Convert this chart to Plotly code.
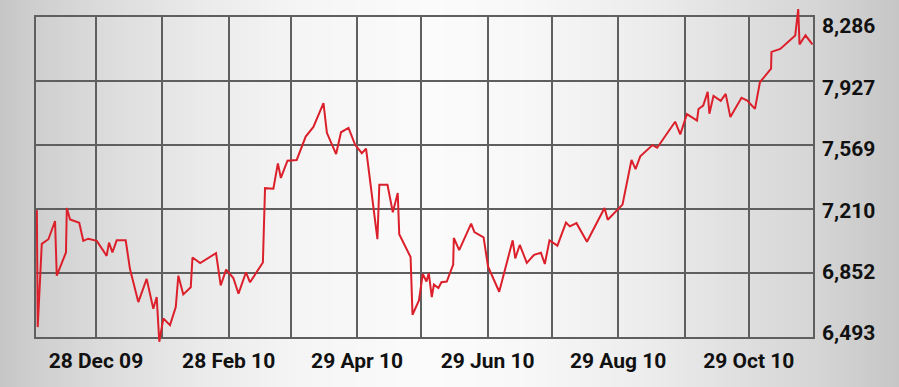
import numpy as np
import pandas as pd
import plotly.graph_objects as go

# ---------------- data ----------------
START = "2009-11-30"
END = "2010-11-28"

# days after START for each vertex of the line
day_offsets = [
    0.4, 0.8, 2.7, 5.8, 8.9, 9.7, 14.0, 14.4, 15.9, 20.2,
    22.1, 24.4, 28.4, 33.0, 34.1, 35.7, 37.7, 41.9, 43.9, 47.8,
    51.7, 54.8, 56.4, 57.6, 59.5, 62.6, 65.3, 66.5, 68.8, 72.3,
    73.1, 76.7, 84.1, 86.3, 88.8, 92.2, 94.6, 98.1, 100.0, 106.0,
    107.0, 110.9, 113.0, 114.4, 117.5, 121.8, 126.0, 129.6, 134.3, 135.9,
    140.2, 142.5, 146.0, 149.1, 152.2, 154.2, 159.5, 160.4, 164.2, 166.7,
    169.0, 169.7, 175.0, 175.9, 178.9, 180.7, 182.4, 183.5, 184.9, 185.9,
    188.0, 189.4, 191.9, 194.9, 195.2, 197.7, 203.3, 204.8, 209.1, 211.2,
    216.4, 222.7, 223.9, 226.0, 229.3, 232.7, 235.9, 237.7, 239.9, 243.6,
    247.6, 249.4, 252.5, 257.4, 265.6, 267.1, 274.0, 278.2, 280.1, 282.3,
    288.0, 290.2, 298.6, 301.0, 304.1, 308.8, 309.5, 311.7, 313.8, 314.6,
    316.5, 319.9, 322.2, 324.4, 329.6, 332.3, 335.9, 338.2, 343.4, 343.6,
    347.7, 354.7, 356.1, 356.7, 359.5, 362.7,
]

index_values = [
    7204, 6549, 7015, 7041, 7143, 6837, 6967, 7216, 7152, 7133,
    7032, 7044, 7032, 6948, 7022, 6967, 7035, 7035, 6874, 6689,
    6819, 6652, 6717, 6467, 6597, 6560, 6661, 6837, 6732, 6772,
    6939, 6907, 6963, 6782, 6871, 6824, 6736, 6856, 6800, 6911,
    7327, 7324, 7466, 7384, 7481, 7485, 7616, 7670, 7803, 7637,
    7518, 7640, 7664, 7570, 7523, 7548, 7041, 7346, 7346, 7192,
    7300, 7069, 6941, 6618, 6698, 6847, 6804, 6851, 6717, 6787,
    6768, 6800, 6804, 6899, 7048, 6980, 7128, 7081, 7052, 6887,
    6747, 7035, 6934, 7009, 6909, 6954, 6965, 6902, 7035, 7005,
    7134, 7113, 7131, 7027, 7216, 7150, 7235, 7485, 7434, 7505,
    7568, 7553, 7699, 7628, 7742, 7705, 7770, 7789, 7866, 7744,
    7844, 7816, 7855, 7725, 7833, 7818, 7771, 7920, 7996, 8090,
    8107, 8182, 8330, 8132, 8183, 8132,
]

y_ticks = [6493, 6852, 7210, 7569, 7927, 8286]
y_ticktext = ["6,493", "6,852", "7,210", "7,569", "7,927", "8,286"]

x_grid_dates = [
    "2009-12-28", "2010-01-28", "2010-02-28", "2010-03-29", "2010-04-29",
    "2010-05-29", "2010-06-29", "2010-07-29", "2010-08-29", "2010-09-29",
    "2010-10-29",
]
x_ticktext = ["28 Dec 09", "", "28 Feb 10", "", "29 Apr 10", "",
              "29 Jun 10", "", "29 Aug 10", "", "29 Oct 10"]

dates = pd.Timestamp(START) + pd.to_timedelta(day_offsets, unit="D")

# ---------------- layout / style ----------------
W, H = 899, 387
L_PX, R_PX = 36, 813          # frame left/right
FRAME_TOP, FRAME_BOT = 14, 337
PLOT_TOP, PLOT_BOT = 4, 347   # data subplot (lets the line run past the frame)
LABEL_TOP, LABEL_BOT = 23, 333  # centres of top / bottom y labels

GRID = "#5f5f5f"
RED = "#dc202b"
FONT = dict(family="Roboto, DejaVu Sans Condensed, sans-serif",
            size=21, color="#111111", weight="bold")

ph = PLOT_BOT - PLOT_TOP
frame_dom = [(PLOT_BOT - FRAME_BOT) / ph, (PLOT_BOT - FRAME_TOP) / ph]

ylo, yhi = y_ticks[0], y_ticks[-1]
fh = FRAME_BOT - FRAME_TOP
upp = (yhi - ylo) / fh
data_range = [ylo - (PLOT_BOT - FRAME_BOT) * upp, yhi + (FRAME_TOP - PLOT_TOP) * upp]

f_top = (FRAME_BOT - LABEL_TOP) / fh
f_bot = (FRAME_BOT - LABEL_BOT) / fh
span = (yhi - ylo) / (f_top - f_bot)
lab_lo = ylo - f_bot * span
label_range = [lab_lo, lab_lo + span]

fig = go.Figure()
fig.add_trace(go.Scatter(x=[dates[0]], y=[index_values[0]], mode="markers",
                         marker=dict(opacity=0), xaxis="x", yaxis="y",
                         hoverinfo="skip", showlegend=False))
fig.add_trace(go.Scatter(x=[dates[0]], y=[index_values[0]], mode="markers",
                         marker=dict(opacity=0), xaxis="x", yaxis="y2",
                         hoverinfo="skip", showlegend=False))
fig.add_trace(go.Scatter(x=dates, y=index_values, mode="lines",
                         line=dict(color=RED, width=2), xaxis="x2", yaxis="y3",
                         hoverinfo="skip", showlegend=False))

# background gradient (horizontal)
stops_px = [0, 36, 100, 200, 300, 430, 520, 650, 750, 813, 899]
stops_c = [198, 207, 219, 234, 245, 251, 248, 236, 222, 214, 198]
pw = R_PX - L_PX
shapes = []
step = 4
for px in range(0, W, step):
    c = int(round(np.interp(px + step / 2, stops_px, stops_c)))
    shapes.append(dict(type="rect", xref="paper", yref="paper",
                       x0=(px - L_PX) / pw, x1=(px + step + 1 - L_PX) / pw,
                       y0=-0.3, y1=1.3, fillcolor=f"rgb({c},{c},{c})",
                       line=dict(width=0), layer="below"))

fig.update_layout(
    width=W, height=H,
    margin=dict(l=L_PX, r=W - R_PX, t=PLOT_TOP, b=H - PLOT_BOT, pad=0),
    paper_bgcolor="rgb(225,225,225)",
    plot_bgcolor="rgba(0,0,0,0)",
    shapes=shapes,
    showlegend=False,
    xaxis=dict(type="date", domain=[0, 1], anchor="y", range=[START, END],
               tickmode="array", tickvals=x_grid_dates, ticktext=x_ticktext,
               showgrid=True, gridcolor=GRID, gridwidth=2,
               showline=True, mirror=True, linecolor=GRID, linewidth=2,
               ticks="", ticklabelstandoff=4, tickfont=FONT, zeroline=False),
    yaxis=dict(domain=frame_dom, anchor="x", range=[ylo, yhi],
               tickmode="array", tickvals=y_ticks, showticklabels=False,
               showgrid=True, gridcolor=GRID, gridwidth=2,
               showline=True, mirror=True, linecolor=GRID, linewidth=2,
               ticks="", zeroline=False),
    yaxis2=dict(overlaying="y", anchor="x", side="right", range=label_range,
                tickmode="array", tickvals=y_ticks, ticktext=y_ticktext,
                showgrid=False, zeroline=False, showline=False, ticks="",
                ticklabelstandoff=8, tickfont=FONT),
    xaxis2=dict(type="date", domain=[0, 1], anchor="y3", range=[START, END],
                visible=False),
    yaxis3=dict(domain=[0, 1], anchor="x2", range=data_range, visible=False),
)

fig.write_html("out.html")
